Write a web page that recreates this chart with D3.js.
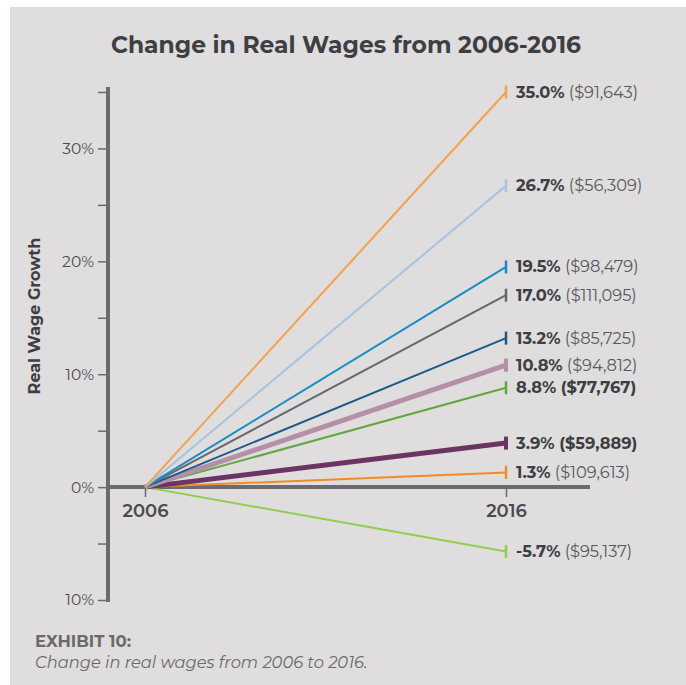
<!DOCTYPE html>
<html><head><meta charset="utf-8">
<script src="https://cdn.jsdelivr.net/npm/d3@7"></script>
<style>
html,body{margin:0;padding:0;background:#fff;}
svg{display:block;}
</style></head>
<body>
<script>
const years = [2006, 2016];
const growth = [35.0, 26.7, 19.5, 17.0, 13.2, 10.8, 8.8, 3.9, 1.3, -5.7];
const wages = ["$91,643", "$56,309", "$98,479", "$111,095", "$85,725", "$94,812", "$77,767", "$59,889", "$109,613", "$95,137"];
const colors = ["#f3a04f", "#a6c3df", "#1b8cc4", "#67676b", "#1d5b88", "#b490a7", "#5fa83e", "#6c3462", "#f18b29", "#8fcf4c"];
const widths = [2, 2, 2, 2, 2, 5, 2, 5, 2, 2];
const boldValue = [false, false, false, false, false, false, true, true, false, false];
const yTickValues = [-10, -5, 0, 5, 10, 15, 20, 25, 30, 35];
const yTickLabels = {"-10": "10%", "0": "0%", "10": "10%", "20": "20%", "30": "30%"};

const W = 686, H = 685;
const svg = d3.select("body").append("svg").attr("width", W).attr("height", H);
svg.append("rect").attr("x", 10).attr("y", 7).attr("width", W - 10).attr("height", H - 7).attr("fill", "#dfdddd");

const font = "Montserrat, 'Open Sans', 'DejaVu Sans', sans-serif";
const textCol = "#3d3f44";

svg.append("text").attr("x", 346).attr("y", 53).attr("text-anchor", "middle")
  .attr("font-family", font).attr("font-weight", 700).attr("font-size", 23.4)
  .attr("fill", textCol).text("Change in Real Wages from 2006-2016");

const y = d3.scaleLinear().domain([-10, 35]).range([600, 92]);
const x = d3.scaleLinear().domain(years).range([145, 506]);
const axisCol = "#6b6b6e";

// y axis
const yAxis = d3.axisLeft(y).tickValues(yTickValues).tickSize(10).tickPadding(4)
  .tickFormat(d => yTickLabels[d] || "");
const gy = svg.append("g").attr("transform", "translate(108,0)").call(yAxis);
gy.select(".domain").remove();
gy.selectAll(".tick line").attr("stroke", axisCol).attr("stroke-width", 1.5);
gy.selectAll(".tick text").attr("font-family", font).attr("font-size", 15.5).attr("fill", "#4a4b50");
svg.append("line").attr("x1", 108).attr("x2", 108).attr("y1", 87).attr("y2", 602)
  .attr("stroke", axisCol).attr("stroke-width", 4);

// x axis
const xAxis = d3.axisBottom(x).tickValues(years).tickSize(10).tickPadding(7).tickFormat(d3.format("d"));
const gx = svg.append("g").attr("transform", `translate(0,${y(0)})`).call(xAxis);
gx.select(".domain").remove();
gx.selectAll(".tick line").attr("stroke", axisCol).attr("stroke-width", 1.5);
gx.selectAll(".tick text").attr("font-family", font).attr("font-size", 18).attr("font-weight", 600).attr("fill", "#4a4b50");
svg.append("line").attr("x1", 106).attr("x2", 590).attr("y1", y(0)).attr("y2", y(0))
  .attr("stroke", axisCol).attr("stroke-width", 4);

svg.append("text").attr("transform", `translate(40,316) rotate(-90)`).attr("text-anchor", "middle")
  .attr("font-family", font).attr("font-weight", 700).attr("font-size", 16).attr("fill", textCol)
  .text("Real Wage Growth");

// lines
const order = d3.range(growth.length).reverse();
const line = d3.line().x(d => x(d[0])).y(d => y(d[1]));
order.forEach(i => {
  svg.append("path").datum([[years[0], 0], [years[1], growth[i]]])
    .attr("d", line).attr("fill", "none").attr("stroke", colors[i]).attr("stroke-width", widths[i]);
  svg.append("line").attr("x1", x(years[1])).attr("x2", x(years[1]))
    .attr("y1", y(growth[i]) - 6.5).attr("y2", y(growth[i]) + 6.5)
    .attr("stroke", colors[i]).attr("stroke-width", widths[i] > 2 ? 4 : 2.5);
});

// labels
growth.forEach((g, i) => {
  const t = svg.append("text").attr("x", 516).attr("y", y(g) + 5.5)
    .attr("font-family", font).attr("font-size", 16.3).attr("fill", textCol);
  t.append("tspan").attr("font-weight", 700).text(g.toFixed(1) + "%");
  t.append("tspan").attr("font-weight", boldValue[i] ? 700 : 400)
    .attr("fill", boldValue[i] ? textCol : "#58595e").text(" (" + wages[i] + ")");
});

// caption
svg.append("text").attr("x", 35).attr("y", 647).attr("font-family", font).attr("font-weight", 700)
  .attr("font-size", 16.5).attr("fill", "#6a6a6c").text("EXHIBIT 10:");
svg.append("text").attr("x", 35).attr("y", 668).attr("font-family", font).attr("font-style", "italic")
  .attr("font-size", 16.3).attr("fill", "#6a6a6c").text("Change in real wages from 2006 to 2016.");
</script>
</body></html>
